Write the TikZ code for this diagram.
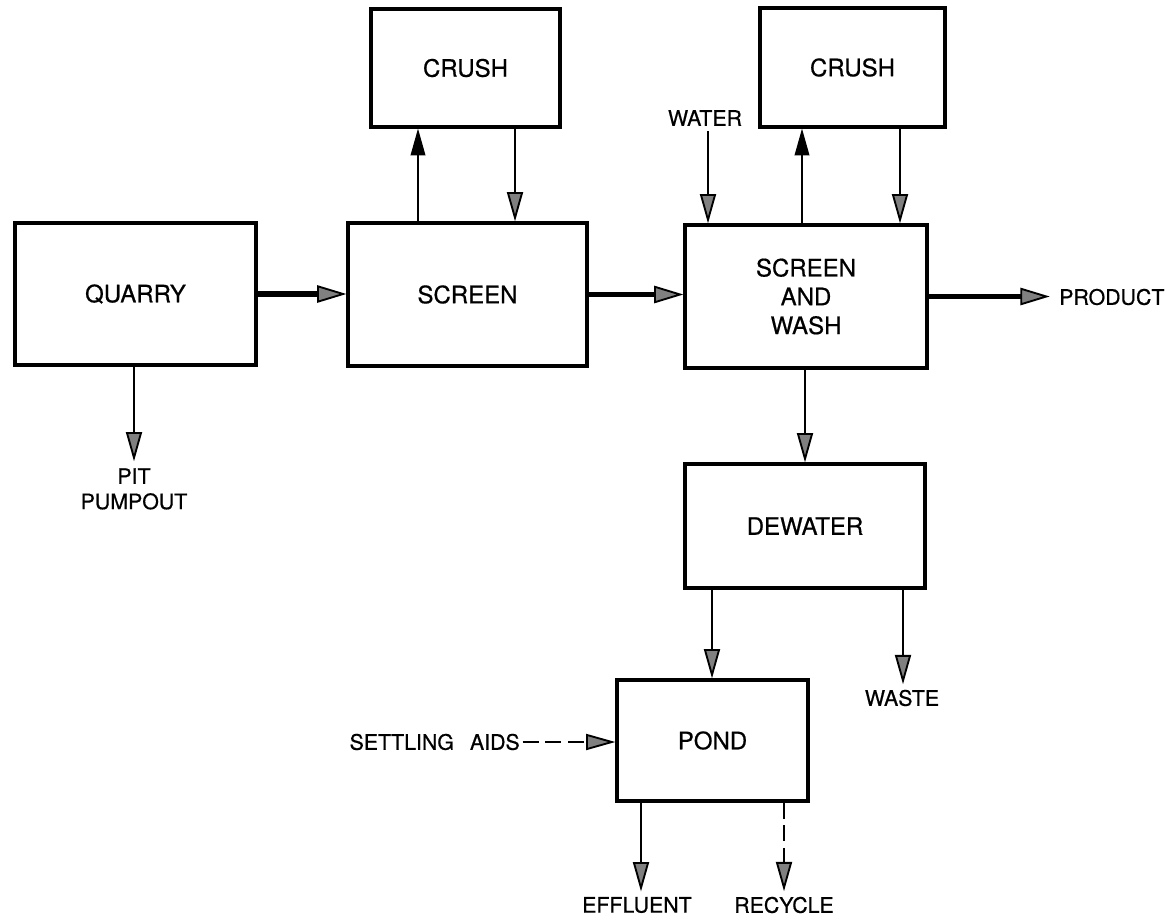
\documentclass[tikz,border=0pt]{standalone}
\usepackage{fontspec}
\setmainfont{TeX Gyre Heros}[FakeBold=0.6]
\usetikzlibrary{arrows.meta,fit}
\begin{document}
\begin{tikzpicture}[x=0.75pt,y=-0.75pt,
  box/.style={draw, line width=2.4pt, inner sep=0pt},
  boxtext/.style={inner sep=0pt, align=center, font=\fontsize{18}{21.6}\selectfont},
  lbl/.style={inner sep=0pt, align=center, font=\fontsize{16}{19}\selectfont},
  flow/.style={line width=1.5pt, -{Triangle[length=22pt,width=12pt,line width=1.4pt,fill=black!50]}},
  upflow/.style={line width=1.5pt, -{Triangle[length=20pt,width=11pt,line width=1pt,fill=black]}},
  mainflow/.style={line width=3.8pt, -{Triangle[length=22pt,width=13pt,line width=1.4pt,fill=black!50]}},
  dflow/.style={flow, dash pattern=on 12pt off 5pt}]
\useasboundingbox (0,0) rectangle (1167,920);
% boxes
\node[box, fit={(15,223) (256,365)}] (quarry) {};
\node[box, fit={(348,223) (587,366)}] (screen) {};
\node[box, fit={(371,9) (560,127)}] (crushA) {};
\node[box, fit={(685,225) (927,368)}] (sw) {};
\node[box, fit={(760,8) (945,127)}] (crushB) {};
\node[box, fit={(685,464) (925,588)}] (dewater) {};
\node[box, fit={(617,680) (808,801)}] (pond) {};
% box texts
\node[boxtext] (quarryT) at (quarry.center) {QUARRY};
\node[boxtext] (screenT) at (screen.center) {SCREEN};
\node[boxtext] (crushAT) at (crushA.center) {CRUSH};
\node[boxtext] (swT) at (sw.center) {SCREEN\\AND\\WASH};
\node[boxtext] (crushBT) at (crushB.center) {CRUSH};
\node[boxtext] (dewaterT) at (dewater.center) {DEWATER};
\node[boxtext] (pondT) at (pond.center) {POND};
% labels
\node[lbl] (water) at (705,118) {WATER};
\node[lbl, anchor=west] (product) at (1059,297) {PRODUCT};
\node[lbl, anchor=north] (pit) at (134,468) {PIT\\PUMPOUT};
\node[lbl] (waste) at (902,698) {WASTE};
\node[lbl, anchor=east] (settle) at (520,742) {SETTLING\hspace{12pt}AIDS};
\node[lbl] (effluent) at (637,905) {EFFLUENT};
\node[lbl] (recycle) at (784,905) {RECYCLE};
% x positions
\coordinate (xa) at (418,0);
\coordinate (xb) at (515,0);
\coordinate (xw) at (708,0);
\coordinate (xc) at (802,0);
\coordinate (xd) at (900,0);
\coordinate (xq) at (134,0);
\coordinate (xe) at (805,0);
\coordinate (xf) at (712,0);
\coordinate (xg) at (903,0);
\coordinate (xh) at (641,0);
\coordinate (xi) at (784,0);
% connectors
\draw[mainflow] (quarry.east) -- (quarry.east -| screen.west);
\draw[mainflow] (screen.east) -- (screen.east -| sw.west);
\draw[mainflow, shorten >=7pt] (sw.east) -- (sw.east -| product.west);
\draw[upflow] (xa |- screen.north) -- (xa |- crushA.south);
\draw[flow] (xb |- crushA.south) -- (xb |- screen.north);
\draw[flow, shorten <=4pt] (xw |- water.south) -- (xw |- sw.north);
\draw[upflow] (xc |- sw.north) -- (xc |- crushB.south);
\draw[flow] (xd |- crushB.south) -- (xd |- sw.north);
\draw[flow, shorten >=5pt] (xq |- quarry.south) -- (xq |- pit.north);
\draw[flow] (xe |- sw.south) -- (xe |- dewater.north);
\draw[flow] (xf |- dewater.south) -- (xf |- pond.north);
\draw[flow, shorten >=4pt] (xg |- dewater.south) -- (xg |- waste.north);
\draw[dflow, shorten <=2pt] (settle.east) -- (settle.east -| pond.west);
\draw[flow, shorten >=4pt] (xh |- pond.south) -- (xh |- effluent.north);
\draw[dflow, shorten >=4pt] (xi |- pond.south) -- (xi |- recycle.north);
\end{tikzpicture}
\end{document}
